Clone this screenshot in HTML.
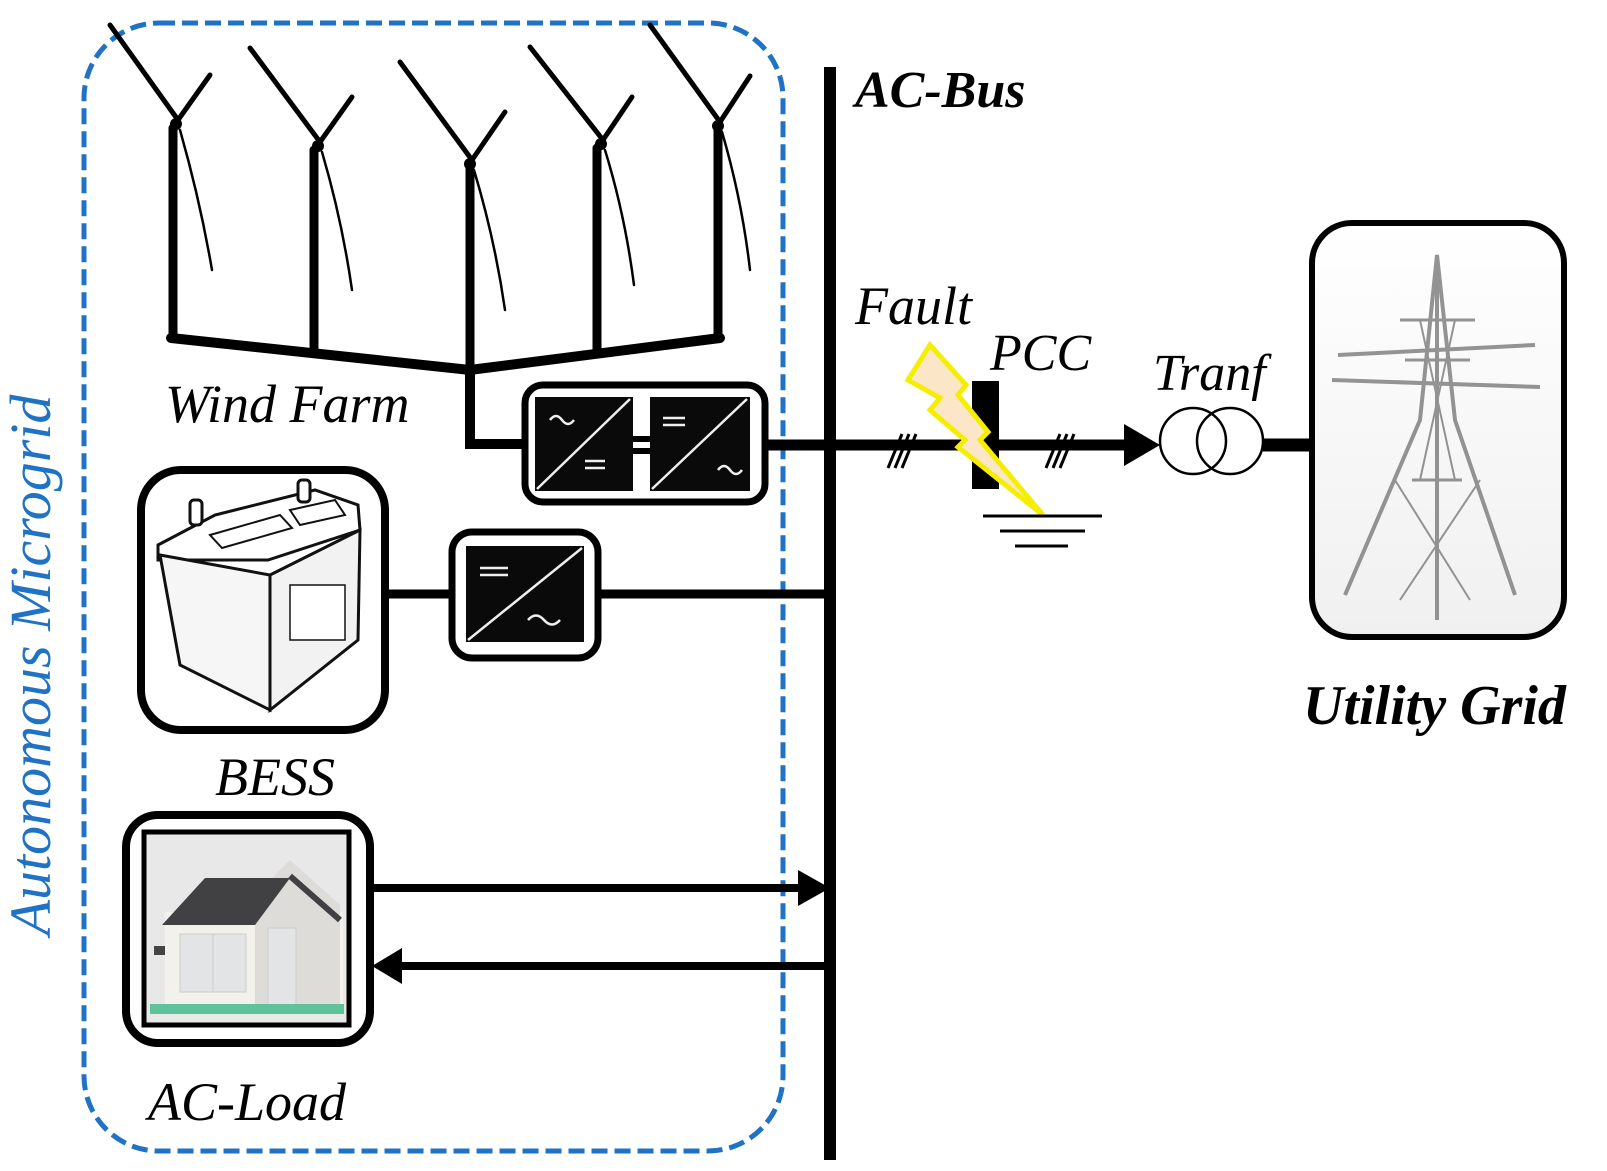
<!DOCTYPE html>
<html><head><meta charset="utf-8"><style>
html,body{margin:0;padding:0;background:#fff;}
svg{display:block;}
text{font-family:"Liberation Serif",serif;font-style:italic;}
</style></head><body>
<svg width="1607" height="1171" viewBox="0 0 1607 1171" xmlns="http://www.w3.org/2000/svg">
<defs>
<linearGradient id="sky" x1="0" y1="0" x2="0" y2="1"><stop offset="0" stop-color="#fff"/><stop offset="1" stop-color="#f0f0f0"/></linearGradient>
</defs>
<rect x="84" y="23" width="699" height="1128" rx="75" fill="none" stroke="#1f72c4" stroke-width="5" stroke-dasharray="16,7"/>
<text transform="translate(50,665) rotate(-90)" text-anchor="middle" font-size="58" fill="#1f72c4">Autonomous Microgrid</text>

<g stroke="#000" fill="none" stroke-linecap="round">
  <g stroke-width="9">
    <line x1="173" y1="128" x2="173" y2="338"/>
    <line x1="314" y1="150" x2="314" y2="350"/>
    <line x1="470" y1="168" x2="470" y2="368"/>
    <line x1="597" y1="148" x2="597" y2="350"/>
    <line x1="718" y1="128" x2="718" y2="338"/>
  </g>
  <polyline points="171,338 470,370 720,338" stroke-width="10" stroke-linejoin="miter"/>
  <polyline points="470,370 470,444 525,444" stroke-width="10"/>
  <g stroke-width="5">
    <line x1="178" y1="120" x2="110" y2="25"/><line x1="178" y1="120" x2="210" y2="75"/>
    <line x1="320" y1="142" x2="250" y2="48"/><line x1="320" y1="142" x2="352" y2="97"/>
    <line x1="472" y1="160" x2="400" y2="62"/><line x1="472" y1="160" x2="505" y2="112"/>
    <line x1="603" y1="140" x2="530" y2="47"/><line x1="603" y1="140" x2="632" y2="97"/>
    <line x1="720" y1="122" x2="650" y2="25"/><line x1="720" y1="122" x2="750" y2="76"/>
  </g>
  <g stroke-width="2.5">
    <path d="M180 130 Q200 200 212 270"/>
    <path d="M322 152 Q342 220 352 290"/>
    <path d="M474 170 Q495 240 505 310"/>
    <path d="M605 150 Q625 215 634 285"/>
    <path d="M722 132 Q742 200 750 270"/>
  </g>
</g>
<g fill="#000"><circle cx="176" cy="124" r="6"/><circle cx="318" cy="146" r="6"/><circle cx="470" cy="164" r="6"/><circle cx="601" cy="144" r="6"/><circle cx="718" cy="126" r="6"/></g>
<text x="165" y="422" font-size="54">Wind Farm</text>

<line x1="830" y1="67" x2="830" y2="1160" stroke="#000" stroke-width="12"/>
<text x="855" y="107" font-size="52" font-weight="bold">AC-Bus</text>

<rect x="525" y="385" width="240" height="117" rx="18" fill="#fff" stroke="#000" stroke-width="7"/>
<rect x="535" y="397" width="98" height="94" fill="#0a0a0a"/>
<rect x="650" y="397" width="100" height="94" fill="#0a0a0a"/>
<rect x="633" y="436" width="17" height="6" fill="#000"/><rect x="633" y="448" width="17" height="6" fill="#000"/>
<g stroke="#eee" stroke-width="2.5" fill="none">
  <line x1="537" y1="489" x2="630" y2="399"/><line x1="652" y1="489" x2="747" y2="399"/>
  <path d="M550 420 q6 -8 12 0 t12 0"/><path d="M718 470 q6 -8 12 0 t12 0"/>
  <line x1="585" y1="461" x2="605" y2="461"/><line x1="585" y1="468" x2="605" y2="468"/>
  <line x1="663" y1="418" x2="685" y2="418"/><line x1="663" y1="425" x2="685" y2="425"/>
</g>
<line x1="765" y1="445" x2="1130" y2="445" stroke="#000" stroke-width="11"/>

<rect x="141" y="470" width="244" height="260" rx="40" fill="#fff" stroke="#000" stroke-width="8"/>
<g stroke="#111" stroke-width="3" fill="#fff">
  <path d="M158 545 L215 515 L315 490 L358 505 L360 530 L268 560 L158 560 Z"/>
  <path d="M160 555 L270 575 L270 710 L180 665 Z" fill="#f6f6f6"/>
  <path d="M270 575 L360 530 L358 640 L270 710 Z" fill="#f2f2f2"/>
  <rect x="190" y="500" width="12" height="25" rx="4"/><rect x="298" y="480" width="12" height="22" rx="4"/>
  <path d="M210 535 L280 515 L292 528 L222 548 Z" stroke-width="2"/>
  <path d="M290 510 L335 500 L345 515 L300 525 Z" stroke-width="2"/>
  <rect x="290" y="585" width="55" height="55" stroke-width="1.5" fill="#fff"/>
</g>
<text x="215" y="795" font-size="54">BESS</text>
<line x1="385" y1="594" x2="452" y2="594" stroke="#000" stroke-width="9"/>
<rect x="452" y="532" width="146" height="126" rx="20" fill="#fff" stroke="#000" stroke-width="7"/>
<rect x="466" y="546" width="118" height="96" fill="#0a0a0a"/>
<g stroke="#eee" stroke-width="2.5" fill="none">
  <line x1="468" y1="640" x2="582" y2="548"/>
  <line x1="480" y1="568" x2="508" y2="568"/><line x1="480" y1="575" x2="508" y2="575"/>
  <path d="M528 620 q8 -9 16 0 t16 0"/>
</g>
<line x1="598" y1="594" x2="830" y2="594" stroke="#000" stroke-width="9"/>

<rect x="126" y="815" width="244" height="228" rx="32" fill="#fff" stroke="#000" stroke-width="8"/>
<rect x="144" y="832" width="205" height="193" fill="#e8e8e8" stroke="#000" stroke-width="5"/>
<rect x="165" y="912" width="178" height="100" fill="#f2f1ec"/>
<polygon points="255,895 290,860 340,905 340,1012 255,1012" fill="#dddcd8"/>
<polygon points="162,925 205,878 290,878 255,925" fill="#414144"/>
<polyline points="290,876 340,920" stroke="#414144" stroke-width="6" fill="none"/>
<rect x="180" y="934" width="66" height="58" fill="#e3e4e6" stroke="#ccc"/>
<line x1="213" y1="934" x2="213" y2="992" stroke="#ccc"/>
<rect x="268" y="928" width="28" height="82" fill="#e3e4e6" stroke="#ccc"/>
<rect x="154" y="946" width="11" height="9" fill="#444"/>
<rect x="150" y="1004" width="194" height="10" fill="#5fc29a"/>
<text x="148" y="1120" font-size="54">AC-Load</text>
<line x1="370" y1="888" x2="800" y2="888" stroke="#000" stroke-width="8"/>
<polygon points="798,870 830,888 798,906" fill="#000"/>
<line x1="400" y1="966" x2="830" y2="966" stroke="#000" stroke-width="8"/>
<polygon points="402,948 372,966 402,984" fill="#000"/>

<rect x="972" y="381" width="27" height="108" fill="#000"/>
<g stroke="#000" stroke-width="3">
  <line x1="888" y1="468" x2="902" y2="434"/><line x1="895" y1="468" x2="909" y2="434"/><line x1="902" y1="468" x2="916" y2="434"/>
  <line x1="1046" y1="468" x2="1060" y2="434"/><line x1="1053" y1="468" x2="1067" y2="434"/><line x1="1060" y1="468" x2="1074" y2="434"/>
</g>
<polygon points="930,345 908,380 940,398 930,410 965,440 958,447 1043,515 980,440 988,432 958,395 966,385" fill="#fbe7c8" stroke="#f5ee00" stroke-width="5" stroke-linejoin="miter"/>
<g stroke="#000" stroke-width="3">
  <line x1="983" y1="516" x2="1102" y2="516"/><line x1="1000" y1="531" x2="1085" y2="531"/><line x1="1015" y1="546" x2="1068" y2="546"/>
</g>
<text x="855" y="324" font-size="54">Fault</text>
<text x="990" y="370" font-size="52">PCC</text>
<text x="1153" y="390" font-size="52">Tranf</text>

<polygon points="1124,424 1160,445 1124,466" fill="#000"/>
<circle cx="1193" cy="441" r="33" fill="none" stroke="#000" stroke-width="2.5"/>
<circle cx="1230" cy="441" r="33" fill="none" stroke="#000" stroke-width="2.5"/>
<line x1="1263" y1="445" x2="1312" y2="445" stroke="#000" stroke-width="13"/>

<rect x="1312" y="223" width="252" height="414" rx="40" fill="url(#sky)" stroke="#000" stroke-width="6"/>
<g stroke="#888" stroke-width="4" fill="none" opacity="0.9">
  <line x1="1437" y1="255" x2="1437" y2="620"/>
  <polyline points="1345,595 1420,420 1437,255 1455,420 1515,595"/>
  <line x1="1338" y1="355" x2="1535" y2="345"/><line x1="1332" y1="380" x2="1540" y2="387"/>
  <path d="M1400 320 L1475 320 M1405 360 L1470 360 M1412 480 L1462 480" stroke-width="3"/>
  <path d="M1420 320 L1455 480 M1455 320 L1420 480 M1395 480 L1470 600 M1480 480 L1400 600" stroke-width="2"/>
</g>
<text x="1303" y="724" font-size="56" font-weight="bold">Utility Grid</text>
</svg>
</body></html>
